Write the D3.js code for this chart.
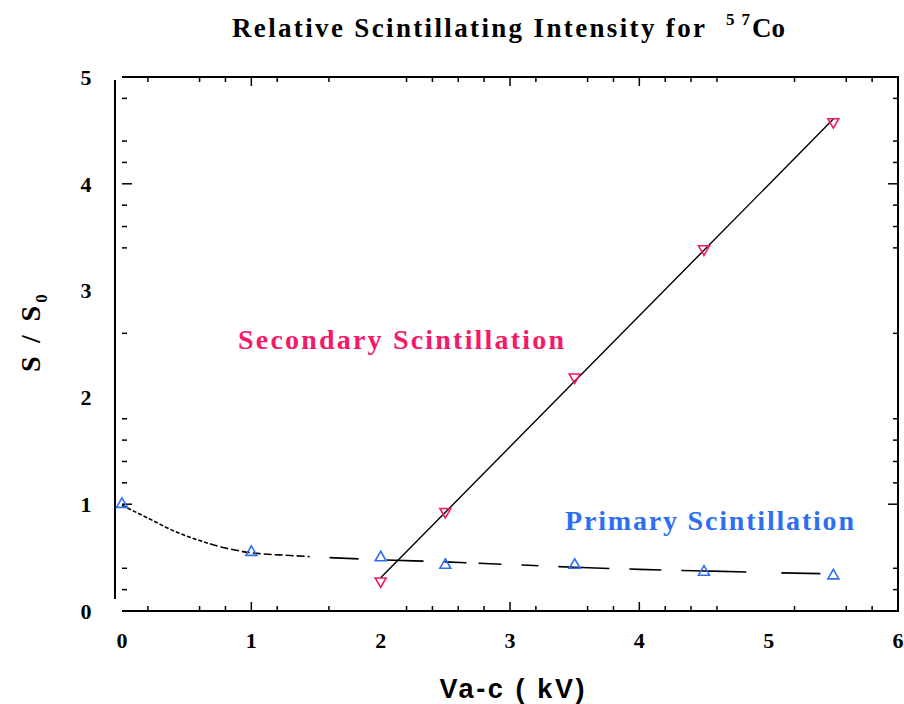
<!DOCTYPE html>
<html>
<head>
<meta charset="utf-8">
<script src="https://cdn.jsdelivr.net/npm/d3@7"></script>
<style>
  body { margin: 0; background: #fff; }
  svg { display: block; }
  .lbl { font-family: "Liberation Serif", "DejaVu Serif", serif; font-weight: bold; }
</style>
</head>
<body>
<div id="chart"></div>
<script>
// Primary scintillation (blue, triangles up)
const primaryX = [0, 1, 2, 2.5, 3.5, 4.5, 5.5];
const primaryY = [1.0, 0.55, 0.50, 0.43, 0.43, 0.365, 0.33];

// Primary fit curve
const primaryFitX = [0, 0.2, 0.4, 0.6, 0.8, 1.0, 1.3, 1.6, 2.0, 2.5, 3.0, 3.5, 4.0, 4.5, 5.0, 5.4];
const primaryFitY = [0.99, 0.87, 0.75, 0.66, 0.59, 0.545, 0.52, 0.50, 0.48, 0.46, 0.435, 0.41, 0.39, 0.375, 0.36, 0.35];

// Secondary scintillation (pink, triangles down)
const secondaryX = [2, 2.5, 3.5, 4.5, 5.5];
const secondaryY = [0.28, 0.93, 2.19, 3.39, 4.58];

// Axis ticks
const xTickLabels = [0, 1, 2, 3, 4, 5, 6];
const yTickLabels = [0, 1, 2, 3, 4, 5];
const xMajorTicks = [1, 3, 4];
const xMinorTicks = [0.2, 0.6, 0.8, 1.2, 1.6, 2.2, 2.4, 2.6, 2.8, 3.2, 3.6, 3.8, 4.2, 4.4, 4.6, 5.2, 5.6, 5.8];
const yMajorTicks = [1, 4];
const yMinorTicks = [0.2, 0.4, 1.2, 1.4, 1.6, 1.8, 2.6, 3.4, 3.6, 3.8, 4.2, 4.4, 4.8];

const width = 904, height = 704;
const plot = { left: 122, right: 898, top: 77, bottom: 611 };
const blue = "#2e6ff2", pink = "#f5196a";

const svg = d3.select("#chart").append("svg")
    .attr("width", width)
    .attr("height", height);

const x = d3.scaleLinear().domain([0, 6]).range([plot.left, plot.right]);
const y = d3.scaleLinear().domain([0, 5]).range([plot.bottom, plot.top]);

// frame: top, right, bottom (left axis line is drawn offset)
const frame = svg.append("g").attr("stroke", "#000").attr("stroke-width", 2).attr("fill", "none");
frame.append("path")
    .attr("d", `M${plot.left},${plot.top}H${plot.right}V${plot.bottom}H${plot.left}`);
frame.append("line")
    .attr("x1", 115).attr("x2", 115)
    .attr("y1", 80).attr("y2", 599);

// inward ticks on all four sides
function drawTicks(vals, len) {
    const g = svg.append("g").attr("stroke", "#000").attr("stroke-width", 1.5);
    vals.forEach(v => {
        g.append("line").attr("x1", x(v)).attr("x2", x(v)).attr("y1", plot.bottom).attr("y2", plot.bottom - len);
        g.append("line").attr("x1", x(v)).attr("x2", x(v)).attr("y1", plot.top).attr("y2", plot.top + len);
    });
    return g;
}
drawTicks(xMinorTicks, 5);
drawTicks(xMajorTicks, 9);

function drawYTicks(vals, len) {
    const g = svg.append("g").attr("stroke", "#000").attr("stroke-width", 1.5);
    vals.forEach(v => {
        g.append("line").attr("x1", plot.left).attr("x2", plot.left + len).attr("y1", y(v)).attr("y2", y(v));
        g.append("line").attr("x1", plot.right).attr("x2", plot.right - len).attr("y1", y(v)).attr("y2", y(v));
    });
}
drawYTicks(yMinorTicks, 5);
drawYTicks(yMajorTicks, 10);

// tick labels
svg.append("g").selectAll("text")
    .data(xTickLabels)
    .join("text")
    .attr("class", "lbl")
    .attr("x", d => x(d))
    .attr("y", 648)
    .attr("text-anchor", "middle")
    .attr("font-size", 22)
    .text(d => d);

svg.append("g").selectAll("text")
    .data(yTickLabels)
    .join("text")
    .attr("class", "lbl")
    .attr("x", 86)
    .attr("y", d => y(d))
    .attr("dy", "0.35em")
    .attr("text-anchor", "middle")
    .attr("font-size", 22)
    .text(d => d);

// primary fit curve, dash length grows to the right
const primaryFit = primaryFitX.map((d, i) => [d, primaryFitY[i]]);
const dashes = [];
for (let i = 0; i < 16; i++) dashes.push(4, 2);
for (let i = 0; i < 9; i++) dashes.push(8, 3);
dashes.push(2, 20, 29, 28, 37, 21, 22, 12, 23, 20, 17, 20, 51, 20, 32, 20, 65, 35, 45, 200);

svg.append("path")
    .datum(primaryFit)
    .attr("fill", "none")
    .attr("stroke", "#000")
    .attr("stroke-width", 1.6)
    .attr("stroke-dasharray", dashes.join(" "))
    .attr("d", d3.line().x(d => x(d[0])).y(d => y(d[1])).curve(d3.curveMonotoneX));

// secondary linear fit
const mx = d3.mean(secondaryX), my = d3.mean(secondaryY);
const slope = d3.sum(secondaryX, (v, i) => (v - mx) * (secondaryY[i] - my)) /
    d3.sum(secondaryX, v => (v - mx) * (v - mx));
const icept = my - slope * mx;
const fitEnds = [d3.min(secondaryX), d3.max(secondaryX)];
svg.append("line")
    .attr("x1", x(fitEnds[0])).attr("y1", y(icept + slope * fitEnds[0]))
    .attr("x2", x(fitEnds[1])).attr("y2", y(icept + slope * fitEnds[1]))
    .attr("stroke", "#000")
    .attr("stroke-width", 1.4);

// markers
const tri = d3.symbol().type(d3.symbolTriangle).size(52);
svg.append("g").selectAll("path")
    .data(primaryX.map((d, i) => [d, primaryY[i]]))
    .join("path")
    .attr("d", tri)
    .attr("transform", d => `translate(${x(d[0])},${y(d[1])})`)
    .attr("fill", "none")
    .attr("stroke", blue)
    .attr("stroke-width", 1.6);

svg.append("g").selectAll("path")
    .data(secondaryX.map((d, i) => [d, secondaryY[i]]))
    .join("path")
    .attr("d", tri)
    .attr("transform", d => `translate(${x(d[0])},${y(d[1])}) rotate(180)`)
    .attr("fill", "none")
    .attr("stroke", pink)
    .attr("stroke-width", 1.6);

// series labels
svg.append("text")
    .attr("class", "lbl")
    .attr("x", 238).attr("y", 349)
    .attr("font-size", 28)
    .attr("fill", pink)
    .attr("textLength", 326)
    .attr("lengthAdjust", "spacing")
    .text("Secondary Scintillation");

svg.append("text")
    .attr("class", "lbl")
    .attr("x", 565).attr("y", 530)
    .attr("font-size", 28)
    .attr("fill", blue)
    .attr("textLength", 289)
    .attr("lengthAdjust", "spacing")
    .text("Primary Scintillation");

// title
const title = svg.append("text")
    .attr("class", "lbl")
    .attr("y", 37)
    .attr("font-size", 27);
title.append("tspan")
    .attr("x", 232)
    .attr("textLength", 473)
    .attr("lengthAdjust", "spacing")
    .text("Relative Scintillating Intensity for");
title.append("tspan")
    .attr("x", 726).attr("dy", -12)
    .attr("font-size", 17)
    .attr("textLength", 24)
    .attr("lengthAdjust", "spacing")
    .text("57");
title.append("tspan")
    .attr("x", 752).attr("dy", 12)
    .text("Co");

// axis titles
svg.append("text")
    .attr("x", 512).attr("y", 698)
    .attr("text-anchor", "middle")
    .attr("font-family", "'Liberation Sans', Arial, sans-serif")
    .attr("font-weight", "bold")
    .attr("font-size", 27)
    .attr("textLength", 145)
    .attr("lengthAdjust", "spacing")
    .text("Va-c ( kV)");

const yTitle = svg.append("text")
    .attr("class", "lbl")
    .attr("transform", "translate(40,372) rotate(-90)")
    .attr("font-size", 28);
yTitle.append("tspan")
    .attr("textLength", 66)
    .attr("lengthAdjust", "spacing")
    .text("S / S");
yTitle.append("tspan").attr("font-size", 17).attr("dy", 7).text("0");
</script>
</body>
</html>
